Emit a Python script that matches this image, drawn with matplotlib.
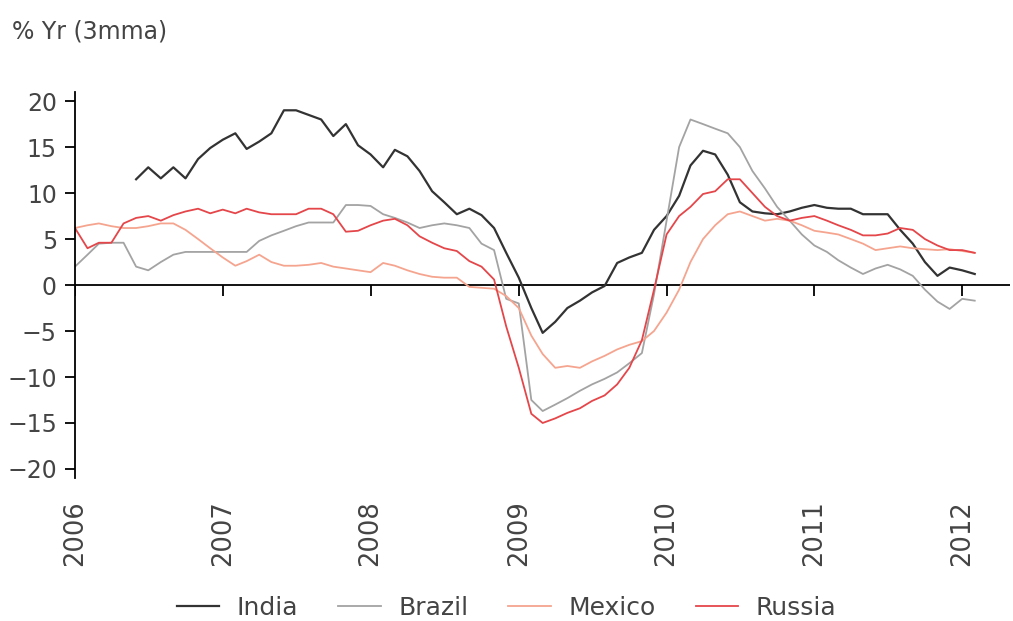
import numpy as np
import pandas as pd
import matplotlib
matplotlib.use("Agg")
import matplotlib.pyplot as plt
import matplotlib.dates as mdates

# monthly data, Jan 2006 - Feb 2012 (% Yr, 3mma)
months = pd.date_range("2006-01-01", "2012-02-01", freq="MS")

india = [np.nan, np.nan, np.nan, np.nan, np.nan,
         11.5, 12.8, 11.6, 12.8, 11.6, 13.7, 14.9, 15.8, 16.5, 14.8, 15.6,
         16.5, 19.0, 19.0, 18.5, 18.0, 16.2, 17.5, 15.2, 14.2, 12.8, 14.7, 14.0,
         12.4, 10.2, 9.0, 7.7, 8.3, 7.6, 6.2, 3.5, 0.8, -2.5, -5.2, -4.0,
         -2.5, -1.7, -0.8, -0.1, 2.4, 3.0, 3.5, 6.0, 7.5, 9.7, 13.0, 14.6,
         14.2, 12.0, 9.0, 8.0, 7.8, 7.7, 8.0, 8.4, 8.7, 8.4, 8.3, 8.3,
         7.7, 7.7, 7.7, 6.0, 4.5, 2.5, 1.0, 1.9, 1.6, 1.2]

brazil = [2.0, 3.3, 4.5, 4.6, 4.6, 2.0, 1.6, 2.5, 3.3, 3.6, 3.6, 3.6,
          3.6, 3.6, 3.6, 4.8, 5.4, 5.9, 6.4, 6.8, 6.8, 6.8, 8.7, 8.7,
          8.6, 7.7, 7.3, 6.8, 6.2, 6.5, 6.7, 6.5, 6.2, 4.5, 3.8, -1.5,
          -2.0, -12.5, -13.7, -13.0, -12.3, -11.5, -10.8, -10.2, -9.5, -8.5, -7.4, -1.0,
          7.0, 15.0, 18.0, 17.5, 17.0, 16.5, 15.0, 12.4, 10.5, 8.5, 7.0, 5.5,
          4.3, 3.6, 2.7, 1.9, 1.2, 1.8, 2.2, 1.7, 1.0, -0.5, -1.8, -2.6,
          -1.5, -1.7]

mexico = [6.2, 6.5, 6.7, 6.4, 6.2, 6.2, 6.4, 6.7, 6.7, 6.0, 5.0, 4.0,
          3.0, 2.1, 2.6, 3.3, 2.5, 2.1, 2.1, 2.2, 2.4, 2.0, 1.8, 1.6,
          1.4, 2.4, 2.1, 1.6, 1.2, 0.9, 0.8, 0.8, -0.2, -0.3, -0.4, -1.2,
          -2.5, -5.5, -7.5, -9.0, -8.8, -9.0, -8.3, -7.7, -7.0, -6.5, -6.1, -5.0,
          -3.0, -0.5, 2.5, 5.0, 6.5, 7.7, 8.0, 7.5, 7.0, 7.2, 7.0, 6.5,
          5.9, 5.7, 5.5, 5.0, 4.5, 3.8, 4.0, 4.2, 4.0, 3.9, 3.8, 3.9,
          3.7, 3.5]

russia = [6.2, 4.0, 4.6, 4.6, 6.7, 7.3, 7.5, 7.0, 7.6, 8.0, 8.3, 7.8,
          8.2, 7.8, 8.3, 7.9, 7.7, 7.7, 7.7, 8.3, 8.3, 7.7, 5.8, 5.9,
          6.5, 7.0, 7.2, 6.5, 5.3, 4.6, 4.0, 3.7, 2.6, 2.0, 0.6, -4.5,
          -9.0, -14.0, -15.0, -14.5, -13.9, -13.4, -12.6, -12.0, -10.8, -9.0, -6.0, -0.5,
          5.5, 7.5, 8.5, 9.9, 10.2, 11.5, 11.5, 10.0, 8.5, 7.5, 7.0, 7.3,
          7.5, 7.0, 6.5, 6.0, 5.4, 5.4, 5.6, 6.2, 6.0, 5.0, 4.3, 3.8,
          3.8, 3.5]

years = pd.date_range("2006-01-01", "2012-01-01", freq="YS")
yticks = [-20, -15, -10, -5, 0, 5, 10, 15, 20]

txt = "#444444"
plt.rcParams["font.family"] = ["DejaVu Sans"]

fig = plt.figure(figsize=(10.13, 6.21), dpi=100)
ax = fig.add_axes([0.074, 0.230, 0.923, 0.622])

ax.plot(months, india, color="#333333", lw=1.6, label="India")
ax.plot(months, brazil, color="#a3a3a3", lw=1.3, label="Brazil")
ax.plot(months, mexico, color="#f5a58f", lw=1.3, label="Mexico")
ax.plot(months, russia, color="#e4464a", lw=1.3, label="Russia")

ax.axhline(0, color="black", lw=1.3, zorder=1)
# small year ticks hanging from the zero line
ax.vlines(years, -1.2, 0, color="black", lw=1.3)

ax.set_xlim(pd.Timestamp("2006-01-01"), pd.Timestamp("2012-04-28"))
ax.set_ylim(-21, 21)
ax.set_yticks(yticks)
ax.set_xticks(years)
ax.xaxis.set_major_formatter(mdates.DateFormatter("%Y"))

for s in ["top", "right", "bottom"]:
    ax.spines[s].set_visible(False)
ax.spines["left"].set_linewidth(1.3)

ax.tick_params(axis="y", direction="out", length=7, width=1.3, pad=6,
               labelsize=17, labelcolor=txt)
ax.tick_params(axis="x", length=0, pad=16, labelsize=18.5, labelcolor=txt,
               labelrotation=90)

fig.text(0.012, 0.968, "% Yr (3mma)", fontsize=17, color=txt, va="top")

fig.legend(loc="lower center", bbox_to_anchor=(0.5, -0.035), ncol=4,
           frameon=False, fontsize=18, handlelength=1.7, columnspacing=1.6,
           handletextpad=0.7, labelcolor=txt)

fig.savefig("out.png", dpi=100)
